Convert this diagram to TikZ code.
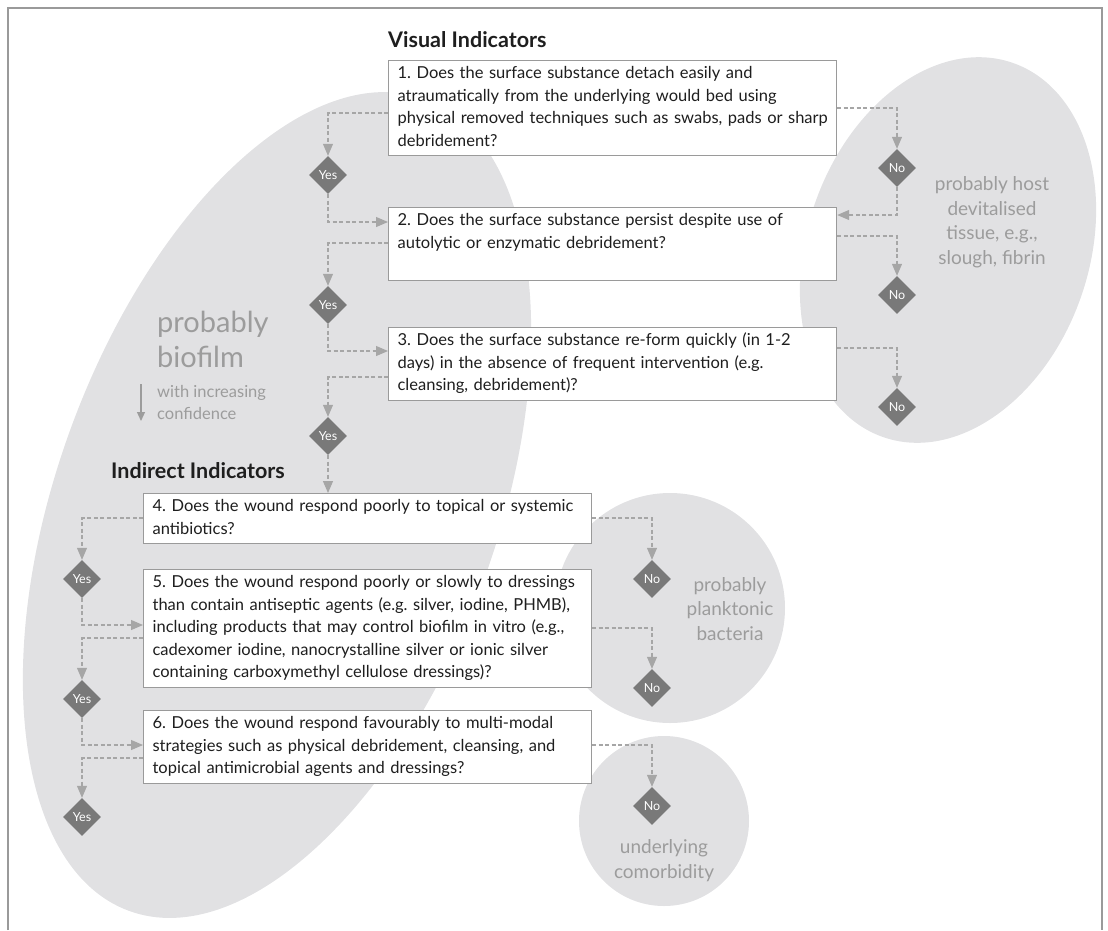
\documentclass[tikz,border=0pt]{standalone}
\usepackage{fontspec}
\setmainfont{Lato}
\frenchspacing
\usetikzlibrary{shapes.geometric,arrows.meta}
\definecolor{ellgray}{HTML}{E1E1E3}
\definecolor{dgray}{HTML}{797979}
\definecolor{lgray}{HTML}{A6A6A6}
\definecolor{tgray}{HTML}{9C9C9C}
\definecolor{bgray}{HTML}{9A9A9A}
\definecolor{txt}{HTML}{1E1E1E}
\newcommand{\qline}[1]{\mbox{#1}}
\begin{document}
\begin{tikzpicture}[x=1pt,y=-1pt,
  qbox/.style={draw=bgray, line width=1.2pt, fill=white, anchor=north west,
    text width=430pt, align=left, inner xsep=9pt, inner ysep=2.5pt,
    font=\fontsize{16.5}{22.5}\selectfont\frenchspacing, text=txt,
    execute at begin node=\strut, execute at end node=\strut},
  dec/.style={diamond, fill=dgray, minimum width=38pt, minimum height=38pt,
    inner sep=0pt, text=white, font=\fontsize{12.5}{14}\selectfont},
  conn/.style={draw=lgray, line width=1.1pt, dash pattern=on 4pt off 2.5pt,
    -{Triangle[length=12pt,width=10pt]}},
  head/.style={anchor=base west, inner sep=0pt, text=txt,
    font=\fontsize{21.5}{24}\selectfont\bfseries},
  glabel/.style={anchor=base, align=center, inner sep=0pt, text=tgray,
    font=\fontsize{19}{24.5}\selectfont}]
\useasboundingbox (0,0) rectangle (1108,930);
% background regions
\fill[ellgray, rotate around={70:(277,505)}] (277,505) ellipse [x radius=432pt, y radius=220pt];
\fill[ellgray, rotate around={71:(948,250)}] (948,250) ellipse [x radius=198pt, y radius=141pt];
\fill[ellgray] (670,608) circle [radius=115pt];
\fill[ellgray] (664,821) circle [radius=85pt];
% frame
\draw[bgray, line width=1.2pt] (8,930) -- (8,8) -- (1102,8) -- (1102,930);
% headings
\node[head] (hv) at (388,47) {Visual Indicators};
\node[head] (hi) at (111,478) {Indirect Indicators};
% question boxes
\node[qbox] (b1) at (388,60) {\qline{1. Does the surface substance detach easily and}\\\qline{atraumatically from the underlying would bed using}\\\qline{physical removed techniques such as swabs, pads or sharp}\\\qline{debridement?}};
\node[qbox] (b2) at (388,207) {\qline{2. Does the surface substance persist despite use of}\\\qline{autolytic or enzymatic debridement?}\\};
\node[qbox] (b3) at (388,327) {\qline{3. Does the surface substance re-form quickly (in 1-2}\\\qline{days) in the absence of frequent intervention (e.g.}\\\qline{cleansing, debridement)?}};
\node[qbox] (b4) at (143,493) {\qline{4. Does the wound respond poorly to topical or systemic}\\\qline{antibiotics?}};
\node[qbox] (b5) at (143,569) {\qline{5. Does the wound respond poorly or slowly to dressings}\\\qline{than contain antiseptic agents (e.g. silver, iodine, PHMB),}\\\qline{including products that may control biofilm in vitro (e.g.,}\\\qline{cadexomer iodine, nanocrystalline silver or ionic silver}\\\qline{containing carboxymethyl cellulose dressings)?}};
\node[qbox] (b6) at (143,710) {\qline{6. Does the wound respond favourably to multi-modal}\\\qline{strategies such as physical debridement, cleansing, and}\\\qline{topical antimicrobial agents and dressings?}};
% decisions
\node[dec] (y1) at (328,175) {Yes};
\node[dec] (y2) at (328,305) {Yes};
\node[dec] (y3) at (328,436) {Yes};
\node[dec] (n1) at (897,168) {No};
\node[dec] (n2) at (897,295) {No};
\node[dec] (n3) at (897,407) {No};
\node[dec] (y4) at (82,579) {Yes};
\node[dec] (y5) at (82,699) {Yes};
\node[dec] (y6) at (82,817) {Yes};
\node[dec] (n4) at (652,579) {No};
\node[dec] (n5) at (652,688) {No};
\node[dec] (n6) at (652,806) {No};
% connectors
\draw[conn] (b1.west |- 0,113) -| (y1.north);
\draw[conn] (y1.south) |- (b2.west |- 0,222);
\draw[conn] (b2.west |- 0,243) -| (y2.north);
\draw[conn] (y2.south) |- (b3.west |- 0,351);
\draw[conn] (b3.west |- 0,377) -| (y3.north);
\draw[conn] (y3.south) -- (y3.south |- b4.north);
\draw[conn] (b1.east |- 0,108) -| (n1.north);
\draw[conn] (n1.south) |- (b2.east |- 0,215);
\draw[conn] (b2.east |- 0,236) -| (n2.north);
\draw[conn] (b3.east |- 0,348) -| (n3.north);
\draw[conn] (b4.west |- 0,518) -| (y4.north);
\draw[conn] (y4.south) |- (b5.west |- 0,625);
\draw[conn] (b5.west |- 0,638) -| (y5.north);
\draw[conn] (y5.south) |- (b6.west |- 0,745);
\draw[conn] (b6.west |- 0,758) -| (y6.north);
\draw[conn] (b4.east |- 0,518) -| (n4.north);
\draw[conn] (b5.east |- 0,628) -| (n5.north);
\draw[conn] (b6.east |- 0,745) -| (n6.north);
% region labels (base = baseline of the last line)
\node[glabel, anchor=base west, align=left, font=\fontsize{29}{35}\selectfont] (lbio) at (157,367) {probably\\biofilm};
\node[glabel, anchor=base west, align=left, font=\fontsize{16.5}{22}\selectfont] (lconf) at (157,419) {with increasing\\confidence};
\coordinate (ca) at (141,384);
\coordinate (cb) at (141,421);
\draw[tgray, line width=1.2pt, -{Triangle[length=9pt,width=8pt]}] (ca) -- (cb);
\node[glabel] (lhost) at (992,264) {probably host\\devitalised\\tissue, e.g.,\\slough, fibrin};
\node[glabel] (lplank) at (730,640) {probably\\planktonic\\bacteria};
\node[glabel] (lcomo) at (664,878) {underlying\\comorbidity};
\end{tikzpicture}
\end{document}
